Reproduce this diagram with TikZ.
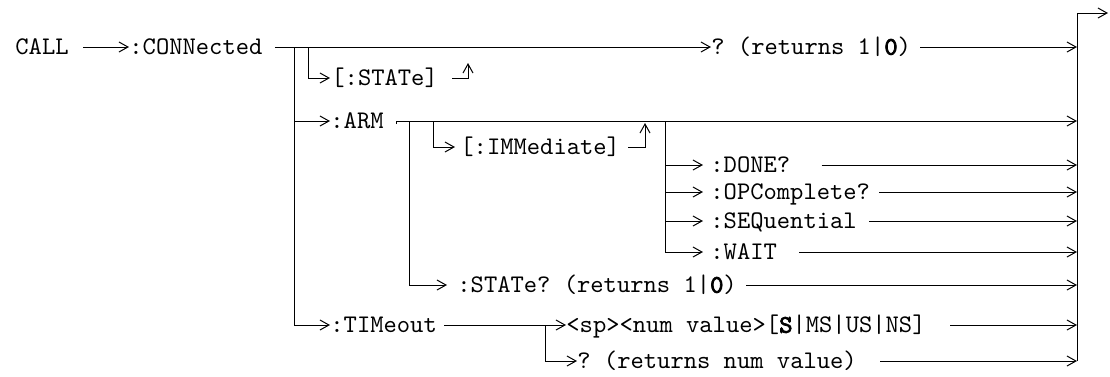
\documentclass[tikz,border=0pt]{standalone}
\usepackage{fontspec}
\setmonofont{lmmono10-regular.otf}[BoldFont=lmmono10-regular.otf, BoldFeatures={FakeBold=3}]
\usetikzlibrary{arrows.meta}

\begin{document}
\begin{tikzpicture}[x=0.5pt, y=-0.5pt,
        cmd/.style={font=\ttfamily\fontsize{12.67}{15}\selectfont, inner sep=0pt, anchor=west, text height=7.7pt, text depth=0pt},
        rail/.style={line width=0.5pt, black},
        go/.style={rail, -{Straight Barb[length=4.5pt, width=5pt]}}] %tree
            \useasboundingbox (0,0) rectangle (1110,376);

            \node[cmd] (call) at (15,47) {CALL};
            \node[cmd] (conn) at (129,47) {:CONNected};
            \node[cmd] (qret) at (711,47) {? (returns 1|\textbf{0})};
            \node[cmd] (stopt) at (331,78) {[:STATe]};
            \node[cmd] (arm) at (330,121) {:ARM};
            \node[cmd] (imm) at (460,147) {[:IMMediate]};
            \node[cmd] (done) at (710,165) {:DONE?};
            \node[cmd] (opc) at (710,192) {:OPComplete?};
            \node[cmd] (seq) at (710,221) {:SEQuential};
            \node[cmd] (wait) at (710,252) {:WAIT};
            \node[cmd] (stq) at (457,285) {:STATe? (returns 1|\textbf{0})};
            \node[cmd] (tim) at (330,325) {:TIMeout};
            \node[cmd] (sp) at (566,325) {<sp><num value>[\textbf{S}|MS|US|NS]};
            \node[cmd] (tq) at (577,361) {? (returns num value)};

            \coordinate (bustop) at (1077,13);
            \coordinate (busbot) at (1077,361);
            \coordinate (out) at (1108,13);
            \coordinate (ja) at (294,47);
            \coordinate (jb) at (308,47);
            \coordinate (ub) at (468,63);
            \coordinate (jc) at (409,121);
            \coordinate (jd) at (433,121);
            \coordinate (ud) at (645,123);
            \coordinate (je) at (665,121);
            \coordinate (jf) at (545,325);

            % main line
            \draw[go, shorten <=7pt] (call.east) -- (conn.west);
            \draw[go, shorten <=6pt] (conn.east) -- (qret.west);
            \draw[go] ([xshift=4.5pt]qret.east) -- (qret.east -| bustop);
            \draw[go] (jb) |- ([xshift=-0.5pt]stopt.west);
            \draw[go] ([xshift=7pt]stopt.east) -| (ub);

            % :ARM and :TIMeout
            \draw[rail] (ja) -- (ja |- tim.west);
            \draw[go] (ja |- arm.west) -- (arm.west);
            \draw[go] (ja |- tim.west) -- (tim.west);
            \draw[rail] ([xshift=6pt, yshift=-1.5pt]arm.east) -- ([xshift=6pt]arm.east);
            \draw[go] ([xshift=6pt]arm.east) -- (arm.east -| bustop);

            \draw[rail] (jc) -- (jc |- stq.west);
            \draw[go, shorten >=5pt] (jc |- stq.west) -- (stq.west);
            \draw[go] ([xshift=4.5pt]stq.east) -- (stq.east -| bustop);
            \draw[go, shorten >=2.5pt] (jd) |- (imm.west);
            \draw[go] ([xshift=4pt]imm.east) -| (ud);

            \draw[rail] (je) -- (je |- wait.west);
            \draw[go, shorten >=3.5pt] (je |- done.west) -- (done.west);
            \draw[go, shorten >=3.5pt] (je |- opc.west) -- (opc.west);
            \draw[go, shorten >=3.5pt] (je |- seq.west) -- (seq.west);
            \draw[go, shorten >=3.5pt] (je |- wait.west) -- (wait.west);
            \draw[go] ([xshift=15.5pt]done.east) -- (done.east -| bustop);
            \draw[go] ([xshift=4.5pt]opc.east) -- (opc.east -| bustop);
            \draw[go] ([xshift=6pt]seq.east) -- (seq.east -| bustop);
            \draw[go] ([xshift=11pt]wait.east) -- (wait.east -| bustop);

            \draw[go, shorten <=3.5pt] (tim.east) -- (sp.west);
            \draw[go] (jf) |- (tq.west);
            \draw[go] ([xshift=12pt]sp.east) -- (sp.east -| bustop);
            \draw[go] ([xshift=11.5pt]tq.east) -- (tq.east -| bustop);

            % exit
            \draw[rail] (busbot) -- (bustop);
            \draw[go] (bustop) -- (out);
        \end{tikzpicture}
\end{document}
